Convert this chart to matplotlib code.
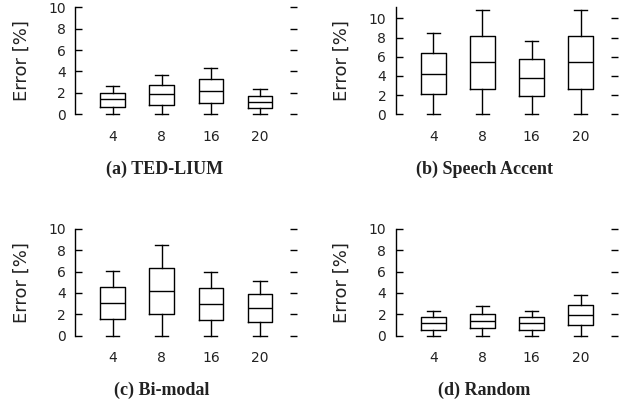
import matplotlib
matplotlib.use("Agg")
import matplotlib.pyplot as plt

# ===========================
# Data
# ===========================
groups = ["4", "8", "16", "20"]
titles = ["(a) TED-LIUM", "(b) Speech Accent", "(c) Bi-modal", "(d) Random"]

# TED-LIUM
ted_low = [0.0, 0.0, 0.0, 0.0]
ted_q1 = [0.65, 0.90, 1.06, 0.56]
ted_med = [1.40, 1.87, 2.18, 1.18]
ted_q3 = [2.02, 2.77, 3.27, 1.74]
ted_high = [2.68, 3.70, 4.36, 2.34]

# Speech Accent
acc_low = [0.0, 0.0, 0.0, 0.0]
acc_q1 = [2.08, 2.67, 1.88, 2.67]
acc_med = [4.24, 5.45, 3.82, 5.45]
acc_q3 = [6.35, 8.19, 5.73, 8.19]
acc_high = [8.50, 10.87, 7.64, 10.87]

# Bi-modal
bim_low = [0.0, 0.0, 0.0, 0.0]
bim_q1 = [1.54, 2.07, 1.47, 1.25]
bim_med = [3.04, 4.20, 2.98, 2.57]
bim_q3 = [4.58, 6.33, 4.48, 3.86]
bim_high = [6.08, 8.43, 5.96, 5.14]

# Random
rnd_low = [0.0, 0.0, 0.0, 0.0]
rnd_q1 = [0.56, 0.69, 0.56, 0.97]
rnd_med = [1.16, 1.41, 1.16, 1.91]
rnd_q3 = [1.72, 2.07, 1.72, 2.88]
rnd_high = [2.32, 2.79, 2.32, 3.82]

panels = [
    (ted_low, ted_q1, ted_med, ted_q3, ted_high),
    (acc_low, acc_q1, acc_med, acc_q3, acc_high),
    (bim_low, bim_q1, bim_med, bim_q3, bim_high),
    (rnd_low, rnd_q1, rnd_med, rnd_q3, rnd_high),
]
y_tops = [10, 11.15, 10, 10]

# ===========================
# Layout (figure fractions)
# ===========================
W, H = 629, 404
ax_w, ax_h = 222 / W, 107 / H
ax_lefts = [75.3 / W, 396 / W, 75.3 / W, 396 / W]
ax_bottoms = [1 - 114.3 / H, 1 - 114.3 / H, 1 - 335.7 / H, 1 - 335.7 / H]
cap_x = [164.3 / W, 484.7 / W, 162 / W, 484.5 / W]
cap_y = [1 - 169 / H, 1 - 169 / H, 1 - 390 / H, 1 - 390 / H]

plt.rcParams["font.family"] = ["DejaVu Sans"]

fig = plt.figure(figsize=(W / 100, H / 100), dpi=100)

for i, (low, q1, med, q3, high) in enumerate(panels):
    ax = fig.add_axes([ax_lefts[i], ax_bottoms[i], ax_w, ax_h])
    stats = []
    for j, g in enumerate(groups):
        stats.append(dict(label=g, whislo=low[j], q1=q1[j], med=med[j],
                          q3=q3[j], whishi=high[j], fliers=[]))
    parts = ax.bxp(stats, positions=range(1, len(groups) + 1), widths=0.5,
                   showfliers=False,
                   boxprops=dict(color="black", linewidth=1.0),
                   medianprops=dict(color="black", linewidth=1.0),
                   whiskerprops=dict(color="black", linewidth=1.0),
                   capprops=dict(color="black", linewidth=1.0),
                   capwidths=0.27)
    # keep the caps at 0 from being cut in half by the axes edge
    for key in ["caps", "whiskers", "boxes", "medians"]:
        for artist in parts[key]:
            artist.set_clip_on(False)

    ax.set_xlim(0.24, 4.76)
    ax.set_ylim(0, y_tops[i])
    ax.set_yticks([0, 2, 4, 6, 8, 10])

    for side in ["top", "right", "bottom"]:
        ax.spines[side].set_visible(False)
    ax.spines["left"].set_linewidth(1.0)
    ax.spines["left"].set_color("black")

    ax.tick_params(axis="y", direction="in", length=5, width=1.0,
                   left=True, right=True, labelsize=10, pad=7,
                   colors="black", labelcolor="#222222")
    ax.tick_params(axis="x", length=0, labelsize=10, pad=11,
                   labelcolor="#222222")

    ax.set_ylabel("Error [%]", fontsize=13, color="#222222")
    ax.yaxis.label.set_va("center")
    ax.yaxis.set_label_coords(-0.243, 0.5)

    fig.text(cap_x[i], cap_y[i], titles[i], ha="center", va="center",
             fontsize=13, fontweight="bold", family="Liberation Serif",
             color="#222222")

fig.savefig("out.png", dpi=100)
